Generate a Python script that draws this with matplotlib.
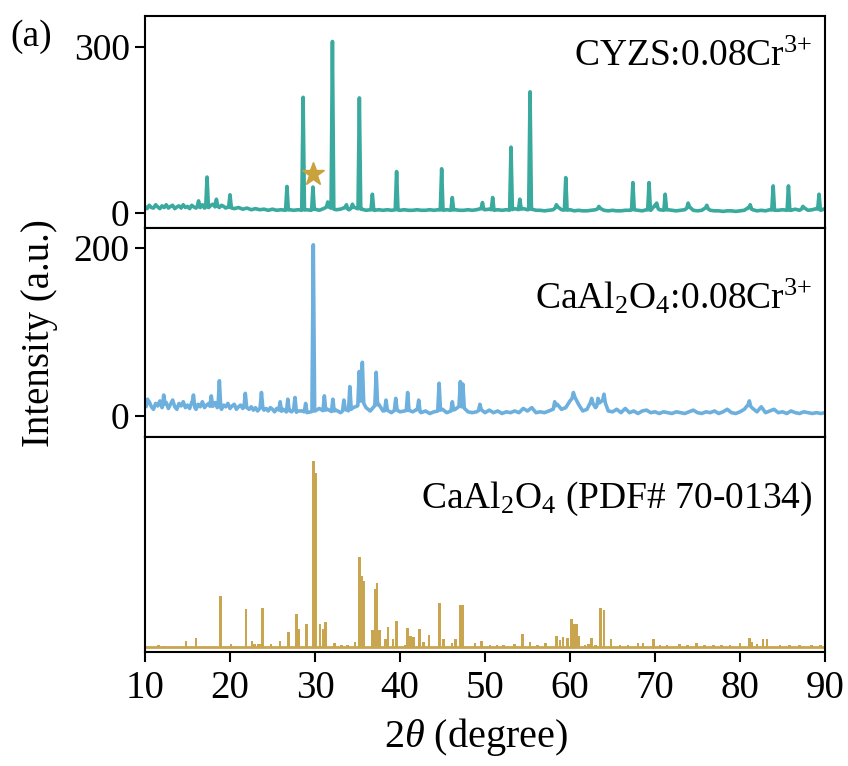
import numpy as np
import matplotlib
matplotlib.use("Agg")
import matplotlib.pyplot as plt

plt.rcParams['font.family'] = ['Liberation Serif', 'DejaVu Serif']
plt.rcParams['mathtext.fontset'] = 'custom'
plt.rcParams['mathtext.rm'] = 'Liberation Serif'
plt.rcParams['mathtext.it'] = 'Liberation Serif:italic'

# ---------------- data ----------------
xlim = (10, 90)
xticks = [10, 20, 30, 40, 50, 60, 70, 80, 90]

# CYZS:0.08Cr3+ (top) - background samples (0.25 deg to 20, then 0.5 deg)
cyzs_bg_x = [10 + 0.25 * i for i in range(41)] + [20.5 + 0.5 * i for i in range(140)]
cyzs_bg_y = [12, 8, 14, 10, 9, 15, 11, 8, 13, 10, 15, 9, 12, 14, 8, 11, 13, 9, 15, 10,
             12, 8, 14, 11, 9, 13, 10, 15, 9, 12, 10, 14, 16, 11, 13, 10, 14, 12, 9, 11, 10,
             8, 10, 7, 9, 6, 8, 6, 7, 5, 7, 5, 6, 5, 6, 5, 6, 5, 6, 5,
             7, 5, 8, 12, 8, 6, 7, 10, 6, 11, 8, 7, 5, 6, 5, 6, 5, 6, 5, 6,
             5, 6, 5, 5, 6, 5, 5, 6, 5, 6, 5, 6, 5, 6, 5, 5, 6, 5, 6, 8,
             6, 7, 5, 6, 5, 6, 5, 8, 6, 8, 6, 7, 5, 5, 4, 5, 6, 12, 6, 5,
             6, 4, 5, 4, 4, 5, 6, 9, 5, 4, 5, 4, 4, 5, 5, 6, 5, 4, 6, 5,
             14, 6, 5, 6, 5, 4, 5, 6, 12, 5, 4, 5, 10, 5, 4, 4, 3, 4, 4, 3,
             4, 5, 10, 6, 4, 5, 4, 6, 5, 5, 6, 5, 5, 7, 5, 10, 5, 6, 8, 5, 8]
cyzs_pk_x = [16.3, 17.3, 18.4, 20.0, 26.7, 28.6, 29.76, 31.5, 32.05, 33.7, 34.4, 35.22,
             36.75, 39.6, 44.9, 46.15, 49.7, 50.9, 53.06, 54.1, 55.3, 58.4, 59.5, 63.4,
             67.4, 69.3, 70.2, 71.2, 73.9, 76.1, 81.2, 83.9, 85.7, 87.4, 89.3]
cyzs_pk_y = [22, 65, 25, 33, 48, 209, 47, 20, 310, 15, 16, 208,
             34, 75, 80, 28, 19, 28, 119, 25, 219, 15, 64, 12,
             55, 55, 18, 34, 18, 14, 15, 49, 49, 12, 34]
star_x, star_y = 29.76, 70

# CaAl2O4:0.08Cr3+ (middle) - background (0.25 deg to 28, then 0.5 deg)
caal_bg_x = [10 + 0.25 * i for i in range(73)] + [28.5 + 0.5 * i for i in range(124)]
caal_bg_y = [14, 9, 17, 11, 8, 15, 12, 18, 10, 13, 16, 9, 14, 19, 11, 8, 15, 12, 17, 10,
             13, 9, 16, 12, 8, 14, 11, 17, 10, 13, 15, 9, 12, 16, 10, 14, 8, 13, 11, 15,
             9, 12, 14, 8, 11, 13, 9, 12, 10,
             8, 11, 7, 10, 6, 9, 12, 7, 9, 6, 10, 8, 5, 9, 7, 5, 8, 6, 4, 7, 5, 8, 4, 6,
             6, 4, 5,
             6, 9, 6, 8, 5, 7, 4, 8, 6, 10, 12, 20, 10, 6, 12, 14, 6, 7, 4, 8,
             5, 6, 7, 5, 8, 4, 6, 3, 5, 6, 8, 4, 6, 8, 12, 10, 5, 4, 5, 8,
             4, 7, 4, 6, 3, 5, 4, 6, 4, 9, 6, 10, 4, 5, 4, 6, 8, 14, 8, 10,
             18, 24, 14, 6, 8, 18, 10, 16, 20, 6, 5, 8, 4, 9, 4, 6, 3, 6, 7, 4,
             5, 3, 5, 4, 3, 5, 4, 3, 5, 7, 4, 3, 5, 4, 6, 3, 5, 8, 4, 3,
             5, 8, 14, 9, 5, 11, 4, 6, 8, 4, 5, 3, 6, 4, 3, 5, 4, 3, 4, 3, 4]
caal_pk_x = [10.3, 12.2, 15.7, 17.8, 18.75, 21.8, 23.7, 25.9, 26.8, 27.65, 28.9, 29.8,
             31.1, 32.1, 33.4, 34.1, 35.2, 35.57, 37.2, 38.35, 39.5, 40.9, 42.2, 44.6,
             46.15, 47.1, 47.4, 49.4, 58.2, 60.4, 62.55, 63.3, 64.0, 81.1]
caal_pk_y = [20, 25, 25, 24, 42, 27, 28, 17, 20, 22, 15, 204,
             24, 20, 19, 35, 53, 64, 52, 19, 21, 28, 19, 39,
             17, 41, 38, 14, 17, 28, 21, 21, 26, 18]

# CaAl2O4 PDF# 70-0134 (bottom) reference sticks
pdf_x = [11.6, 12.2, 14.8, 16.0, 18.86, 20.1, 21.88, 22.6, 22.9, 23.3, 23.6, 23.84,
         24.8, 25.9, 26.86, 27.8, 28.1, 29.0, 29.8, 30.08, 30.6, 31.0, 31.25, 32.3,
         33.1, 33.8, 34.7, 35.25, 35.5, 35.7, 36.74, 36.9, 37.06, 37.3, 37.6, 38.3,
         38.6, 39.2, 39.6, 40.6, 40.9, 41.25, 41.6, 42.3, 42.75, 43.4, 44.63, 45.1,
         46.1, 46.5, 47.05, 47.37, 48.8, 49.6, 50.6, 51.4, 52.2, 53.5, 54.4, 55.3,
         56.2, 57.1, 58.4, 58.8, 59.2, 59.7, 60.2, 60.5, 60.8, 61.06, 61.76, 62.2,
         62.55, 63.0, 63.6, 64.0, 64.8, 65.9, 66.8, 68.0, 68.6, 69.8, 70.6, 71.4,
         72.9, 73.8, 74.9, 75.8, 76.9, 77.8, 78.8, 80.0, 81.1, 81.4, 82.0, 82.7,
         83.2, 84.7, 85.8, 87.0, 88.4, 89.5]
pdf_h = [1.3, 0.9, 3.6, 5.4, 27.9, 2.2, 20.7, 3.6, 2.2, 2.2, 2.2, 21.6,
         2.2, 3.6, 8.5, 18.0, 10.0, 13.0, 100, 93.7, 13.0, 10.0, 13.9, 2.7,
         1.3, 1.8, 3.0, 48.6, 38.7, 36.0, 9.4, 9.4, 31.5, 34.6, 9.4, 4.5,
         11.2, 4.9, 14.4, 1.8, 10.5, 6.3, 5.8, 10.3, 3.2, 6.7, 24.0, 4.5,
         2.7, 4.5, 22.9, 22.9, 2.7, 3.6, 1.3, 1.5, 1.8, 2.3, 7.2, 3.0,
         1.5, 2.7, 6.3, 4.0, 5.9, 5.4, 15.3, 13.0, 12.6, 6.3, 1.3, 2.0,
         5.4, 1.5, 21.3, 20.4, 4.5, 1.8, 1.5, 2.7, 2.7, 4.9, 1.5, 1.5,
         2.3, 1.5, 2.7, 1.3, 1.5, 1.3, 1.5, 2.7, 5.4, 3.0, 2.0, 4.5,
         4.9, 1.5, 1.8, 1.5, 1.5, 1.3]

labels = ['CYZS:0.08Cr$^{3{+}}$',
          'CaAl$_{2}$O$_{4}$:0.08Cr$^{3{+}}$',
          'CaAl$_{2}$O$_{4}$ (PDF# 70-0134)']
colors = ['#3aaa9f', '#6db0de', '#c9a550']


def profile(bg_x, bg_y, pk_x, pk_y, w=0.16):
    """Polyline through background samples and peak apexes."""
    bx = np.asarray(bg_x, float)
    by = np.asarray(bg_y, float)
    keep = np.ones(len(bx), bool)
    for p in pk_x:
        keep &= ~((bx > p - w) & (bx < p + w))
    xs = list(bx[keep])
    ys = list(by[keep])
    for p, a in zip(pk_x, pk_y):
        for xx in (p - w, p + w):
            xs.append(xx)
            ys.append(np.interp(xx, bx, by))
        xs.append(p)
        ys.append(a)
    order = np.argsort(xs, kind='stable')
    return np.asarray(xs)[order], np.asarray(ys)[order]


# ---------------- figure ----------------
fig = plt.figure(figsize=(8.48, 7.66), dpi=100)
L, R = 145 / 848, 825 / 848
tops = [16, 228, 437]
bots = [228, 437, 652]
axes = []
for t, b in zip(tops, bots):
    ax = fig.add_axes([L, 1 - b / 766, R - L, (b - t) / 766])
    axes.append(ax)

fs_tick = 27
for ax in axes:
    ax.set_xlim(*xlim)
    for s in ax.spines.values():
        s.set_linewidth(1.5)
    ax.tick_params(direction='out', length=7, width=1.5, labelsize=fs_tick, pad=4)
    ax.set_xticks(xticks)

# top
ax = axes[0]
x, y = profile(cyzs_bg_x, cyzs_bg_y, cyzs_pk_x, cyzs_pk_y)
ax.plot(x, y, color=colors[0], lw=2.6, solid_joinstyle='round')
ax.plot([star_x], [star_y], marker='*', ms=17, color='#c9a23e', mec='#c9a23e')
ax.set_ylim(-27, 356)
ax.set_yticks([0, 300])
ax.tick_params(axis='x', bottom=False, labelbottom=False)
ax.text(0.982, 0.81, labels[0], transform=ax.transAxes, ha='right', va='center', fontsize=27)

# middle
ax = axes[1]
x, y = profile(caal_bg_x, caal_bg_y, caal_pk_x, caal_pk_y)
ax.plot(x, y, color=colors[1], lw=2.6, solid_joinstyle='round')
ax.set_ylim(-25, 224)
ax.set_yticks([0, 200])
ax.tick_params(axis='x', bottom=False, labelbottom=False)
ax.text(0.982, 0.67, labels[1], transform=ax.transAxes, ha='right', va='center', fontsize=27)

# bottom
ax = axes[2]
ax.bar(pdf_x, pdf_h, width=0.3, color=colors[2], linewidth=0)
ax.plot(list(xlim), [0.6, 0.6], color=colors[2], lw=2)
ax.set_ylim(-2.2, 113)
ax.set_yticks([])
ax.text(0.982, 0.71, labels[2], transform=ax.transAxes, ha='right', va='center', fontsize=27)
ax.tick_params(axis='x', labelsize=28, pad=6)

fig.text(0.012, 0.975, '(a)', fontsize=27, ha='left', va='top')
fig.text(0.046, 0.565, 'Intensity (a.u.)', fontsize=28, rotation=90, ha='center', va='center')
fig.text(0.562, 0.038, r'2$\mathit{\theta}$ (degree)', fontsize=29, ha='center', va='center')

fig.savefig('out.png', dpi=100)
